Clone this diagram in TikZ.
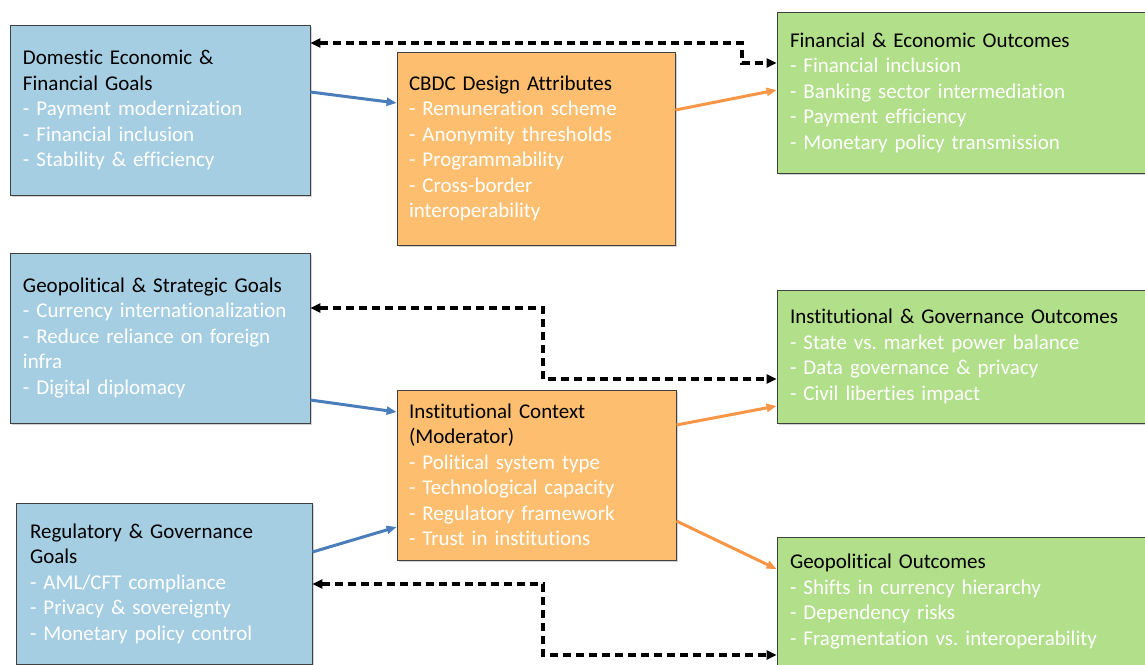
\documentclass[tikz,border=0pt]{standalone}
\usepackage{fontspec}
\setmainfont{Carlito}[RawFeature=-liga]
\usetikzlibrary{arrows.meta,shadows}

\definecolor{goalblue}{HTML}{A6CEE3}
\definecolor{midorange}{HTML}{FDBF6F}
\definecolor{outgreen}{HTML}{B2DF8A}
\definecolor{lineblue}{HTML}{4A7EBB}
\definecolor{lineorange}{HTML}{F79646}
\newcommand{\itm}[1]{\\\textcolor{white}{- #1}}

\tikzset{
  boxbase/.style={draw=black!75, line width=0.8pt, align=left, inner sep=0pt,
    font=\fontsize{21}{25.5}\selectfont\frenchspacing,
    drop shadow={shadow xshift=1.5pt, shadow yshift=-1.5pt, opacity=0.35}},
  goal/.style={boxbase, fill=goalblue},
  mid/.style={boxbase, fill=midorange},
  outcome/.style={boxbase, fill=outgreen},
  bluearr/.style={-{Triangle[length=10pt,width=8pt]}, draw=lineblue, line width=3pt},
  orangearr/.style={-{Triangle[length=10pt,width=8pt]}, draw=lineorange, line width=3pt},
  feedback/.style={{Triangle[length=10pt,width=9pt]}-{Triangle[length=10pt,width=9pt]},
    line width=3.4pt, dash pattern=on 8pt off 5pt}
}

\begin{document}
\begin{tikzpicture}[x=1pt,y=-1pt]
    \useasboundingbox (0,0) rectangle (1145,664);
    % goals (left)
    \node[goal, minimum width=300pt, minimum height=170pt, text width=274pt] (dom) at (160,110)
      {Domestic Economic \&\\Financial Goals\itm{Payment modernization}\itm{Financial inclusion}\itm{Stability \& efficiency}};
    \node[goal, minimum width=300pt, minimum height=170pt, text width=274pt] (geo) at (160,338)
      {Geopolitical \& Strategic Goals\itm{Currency internationalization}\itm{Reduce reliance on foreign}\\\textcolor{white}{infra}\itm{Digital diplomacy}};
    \node[goal, minimum width=296pt, minimum height=161pt, text width=268pt] (reg) at (164,583.5)
      {Regulatory \& Governance\\Goals\itm{AML/CFT compliance}\itm{Privacy \& sovereignty}\itm{Monetary policy control}};
    % design and moderator (middle)
    \node[mid, minimum width=278pt, minimum height=193pt, text width=254pt] (design) at (536,148.5)
      {CBDC Design Attributes\itm{Remuneration scheme}\itm{Anonymity thresholds}\itm{Programmability}\itm{Cross-border}\\\textcolor{white}{interoperability}};
    \node[mid, minimum width=279pt, minimum height=170pt, text width=255pt] (context) at (536.5,475)
      {Institutional Context\\(Moderator)\itm{Political system type}\itm{Technological capacity}\itm{Regulatory framework}\itm{Trust in institutions}};
    % outcomes (right)
    \node[outcome, minimum width=383pt, minimum height=161pt, text width=357pt] (finout) at (968.5,92.5)
      {Financial \& Economic Outcomes\itm{Financial inclusion}\itm{Banking sector intermediation}\itm{Payment efficiency}\itm{Monetary policy transmission}};
    \node[outcome, minimum width=383pt, minimum height=133pt, text width=357pt] (instout) at (968.5,356.5)
      {Institutional \& Governance Outcomes\itm{State vs. market power balance}\itm{Data governance \& privacy}\itm{Civil liberties impact}};
    \node[outcome, minimum width=383pt, minimum height=129pt, text width=357pt] (geoout) at (968.5,601.5)
      {Geopolitical Outcomes\itm{Shifts in currency hierarchy}\itm{Dependency risks}\itm{Fragmentation vs. interoperability}};
    %
    \draw[bluearr] (dom.east |- 0,92) -- (design.west |- 0,103);
    \draw[bluearr] (geo.east |- 0,400) -- (context.west |- 0,412);
    \draw[bluearr] (reg.east |- 0,552) -- (context.west |- 0,527);
    %
    \draw[orangearr] (design.east |- 0,110) -- (finout.west |- 0,90);
    \draw[orangearr] (context.east |- 0,425) -- (instout.west |- 0,406);
    \draw[orangearr] (context.east |- 0,521) -- (geoout.west |- 0,569);
    % feedback loops
    \draw[feedback] (dom.east |- 0,43) -- (742,43) -- (742,63) -- (finout.west |- 0,63);
    \draw[feedback] (geo.east |- 0,308) -- (543,308) -- (543,379) -- (instout.west |- 0,379);
    \draw[feedback] (reg.east |- 0,584) -- (543,584) -- (543,655) -- (geoout.west |- 0,655);
\end{tikzpicture}
\end{document}
